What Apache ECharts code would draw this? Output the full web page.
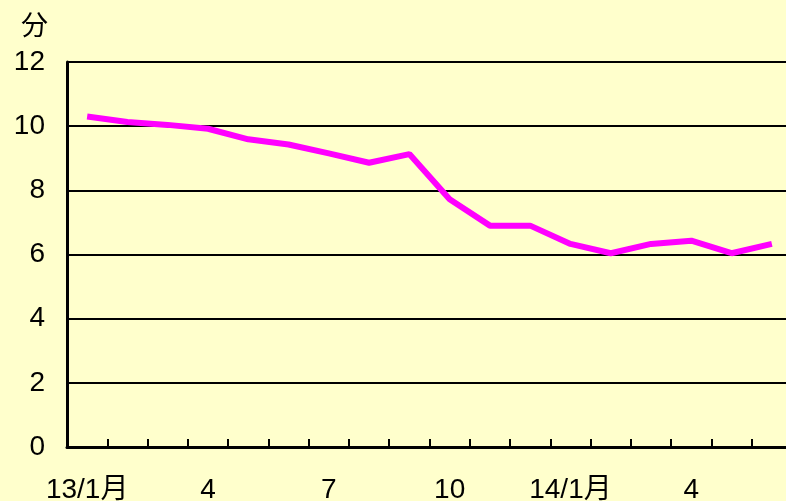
<!DOCTYPE html>
<html>
<head>
<meta charset="utf-8">
<script src="https://cdn.jsdelivr.net/npm/echarts@6/dist/echarts.min.js"></script>
<style>
  html, body { margin: 0; padding: 0; background: #FFFFCC; }
  #chart { width: 786px; height: 501px; }
</style>
</head>
<body>
<div id="chart"></div>
<script>
// 月（13/1月〜14/6月）
var months = ['13/1月', '2', '3', '4', '5', '6', '7', '8', '9', '10', '11', '12',
              '14/1月', '2', '3', '4', '5', '6'];
// 待ち時間（分）
var minutes = [10.3, 10.13, 10.04, 9.92, 9.59, 9.43, 9.15, 8.86, 9.13, 7.72,
               6.9, 6.9, 6.33, 6.04, 6.33, 6.43, 6.04, 6.33];
var yTicks = [0, 12, 2];

var font = '"Liberation Sans", Arial, "Noto Sans CJK JP", sans-serif';
var myChart = echarts.init(document.getElementById('chart'));

var option = {
    backgroundColor: '#FFFFCC',
    animation: false,
    textStyle: { fontFamily: font },
    graphic: [{
        type: 'text',
        left: 21,
        top: 14,
        style: { text: '分', fontSize: 27, fill: '#000', fontFamily: font }
    }],
    // 右端は画面外まで伸びている
    grid: { left: 67, top: 62, bottom: 54, width: 725, outerBoundsMode: 'none' },
    xAxis: {
        type: 'category',
        data: months,
        boundaryGap: true,
        axisLine: { lineStyle: { color: '#000', width: 3 } },
        axisTick: { show: true, interval: 0, inside: true, length: 8, lineStyle: { color: '#000', width: 2 } },
        axisLabel: { interval: 2, margin: 29, fontSize: 28, color: '#000', fontFamily: font }
    },
    yAxis: {
        type: 'value',
        min: yTicks[0],
        max: yTicks[1],
        interval: yTicks[2],
        axisLine: { show: true, lineStyle: { color: '#000', width: 3 } },
        axisTick: { show: true, inside: true, length: 9, lineStyle: { color: '#000', width: 2 } },
        axisLabel: { margin: 22, fontSize: 28, color: '#000', fontFamily: font },
        splitLine: { show: true, lineStyle: { color: '#000', width: 2 } }
    },
    series: [{
        type: 'line',
        data: minutes,
        symbol: 'none',
        lineStyle: { color: '#FF00FF', width: 6 },
        z: 5
    }]
};

myChart.setOption(option);
</script>
</body>
</html>
